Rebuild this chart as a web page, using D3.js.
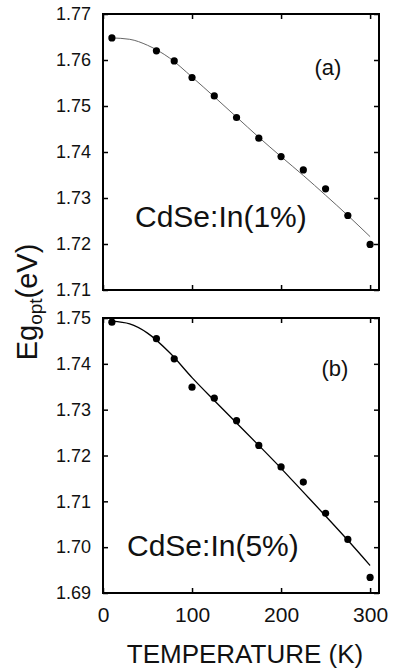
<!DOCTYPE html>
<html><head><meta charset="utf-8">
<script src="https://cdn.jsdelivr.net/npm/d3@7"></script>
<style>html,body{margin:0;padding:0;background:#fff;}svg{display:block;}</style>
</head><body>
<svg id="chart" width="394" height="672"></svg>
<script>
// ---- data ----
const temps = [10, 60, 80, 100, 125, 150, 175, 200, 225, 250, 275, 300];
const egA = [1.7648, 1.7620, 1.7598, 1.7562, 1.7522, 1.7475, 1.7430, 1.7390, 1.7361, 1.7320, 1.7262, 1.7199];
const egB = [1.7491, 1.7455, 1.7411, 1.7349, 1.7325, 1.7276, 1.7222, 1.7175, 1.7142, 1.7074, 1.7017, 1.6934];
const fitT = [10, 30, 50, 75, 100, 125, 150, 175, 200, 225, 250, 275, 300];
const fitA = [1.7648, 1.7645, 1.7632, 1.7604, 1.7563, 1.7520, 1.7476, 1.7432, 1.7390, 1.7349, 1.7306, 1.7262, 1.7216];
const fitB = [1.7493, 1.7487, 1.7467, 1.7424, 1.7370, 1.7320, 1.7271, 1.7222, 1.7172, 1.7120, 1.7068, 1.7015, 1.6960];
const yTicksA = [1.71, 1.72, 1.73, 1.74, 1.75, 1.76, 1.77];
const yTicksB = [1.69, 1.70, 1.71, 1.72, 1.73, 1.74, 1.75];
const xTicks = [0, 100, 200, 300];
const labelA = "CdSe:In(1%)", labelB = "CdSe:In(5%)";
const tagA = "(a)", tagB = "(b)";
const xTitle = "TEMPERATURE (K)";

// ---- layout ----
const svg = d3.select("#chart");
const FONT = "Arial, 'Liberation Sans', Helvetica, sans-serif";
const L = 103, R = 379;
const x = d3.scaleLinear().domain([0, 310]).range([L, R]);

function panel(cfg) {
  const y = d3.scaleLinear().domain(cfg.domain).range([cfg.bottom, cfg.top]);
  const g = svg.append("g");
  const styleAxis = sel => {
    sel.select(".domain").remove();
    sel.selectAll(".tick line").attr("stroke", "#000").attr("stroke-width", 1.5);
    sel.selectAll("text").attr("font-family", FONT).attr("fill", "#111");
  };
  g.append("g").attr("transform", `translate(${L},0)`)
    .call(d3.axisLeft(y).tickValues(cfg.yTicks).tickSize(-5).tickPadding(12).tickFormat(d3.format(".2f")))
    .call(styleAxis).selectAll("text").attr("font-size", 18);
  g.append("g").attr("transform", `translate(${R},0)`)
    .call(d3.axisRight(y).tickValues(cfg.yTicks).tickSize(-5).tickFormat(""))
    .call(styleAxis);
  g.append("g").attr("transform", `translate(0,${cfg.top})`)
    .call(d3.axisTop(x).tickValues(xTicks).tickSize(-5).tickFormat(""))
    .call(styleAxis);
  const bx = g.append("g").attr("transform", `translate(0,${cfg.bottom})`)
    .call(d3.axisBottom(x).tickValues(xTicks).tickSize(-5).tickPadding(14)
      .tickFormat(cfg.xLabels ? d3.format("d") : ""))
    .call(styleAxis);
  bx.selectAll("text").attr("font-size", 21);

  g.append("rect").attr("x", L).attr("y", cfg.top).attr("width", R - L).attr("height", cfg.bottom - cfg.top)
    .attr("fill", "none").attr("stroke", "#000").attr("stroke-width", 2);

  const line = d3.line().x((d, i) => x(fitT[i])).y(d => y(d)).curve(d3.curveMonotoneX);
  g.append("path").datum(cfg.fit).attr("d", line).attr("fill", "none")
    .attr("stroke", cfg.lineColor).attr("stroke-width", cfg.lineWidth);

  g.selectAll("circle.pt").data(cfg.pts).join("circle").attr("class", "pt")
    .attr("cx", (d, i) => x(temps[i])).attr("cy", d => y(d)).attr("r", 3.6).attr("fill", "#000");

  g.append("text").attr("x", cfg.tagX).attr("y", cfg.tagY).attr("font-family", FONT)
    .attr("font-size", 22).attr("fill", "#111").attr("text-anchor", "middle").text(cfg.tag);
  g.append("text").attr("x", cfg.labX).attr("y", cfg.labY).attr("font-family", FONT)
    .attr("font-size", 30).attr("fill", "#111").text(cfg.label);
}

panel({domain: [1.71, 1.77], top: 14, bottom: 290, yTicks: yTicksA, xLabels: false,
  fit: fitA, pts: egA, lineColor: "#666", lineWidth: 1, tag: tagA, tagX: 328, tagY: 75,
  label: labelA, labX: 135, labY: 227});
panel({domain: [1.69, 1.75], top: 318, bottom: 593, yTicks: yTicksB, xLabels: true,
  fit: fitB, pts: egB, lineColor: "#000", lineWidth: 1.3, tag: tagB, tagX: 335, tagY: 376,
  label: labelB, labX: 127, labY: 556});

// axis titles
const yt = svg.append("text").attr("transform", "translate(37,302) rotate(-90)")
  .attr("text-anchor", "middle").attr("font-family", FONT).attr("font-size", 29).attr("fill", "#111");
yt.append("tspan").text("Eg");
yt.append("tspan").attr("font-size", 19).attr("dy", 5).text("opt");
yt.append("tspan").attr("dy", -5).text("(eV)");

svg.append("text").attr("x", 245).attr("y", 663).attr("text-anchor", "middle")
  .attr("font-family", FONT).attr("font-size", 26).attr("fill", "#111").text(xTitle);
</script>
</body></html>
